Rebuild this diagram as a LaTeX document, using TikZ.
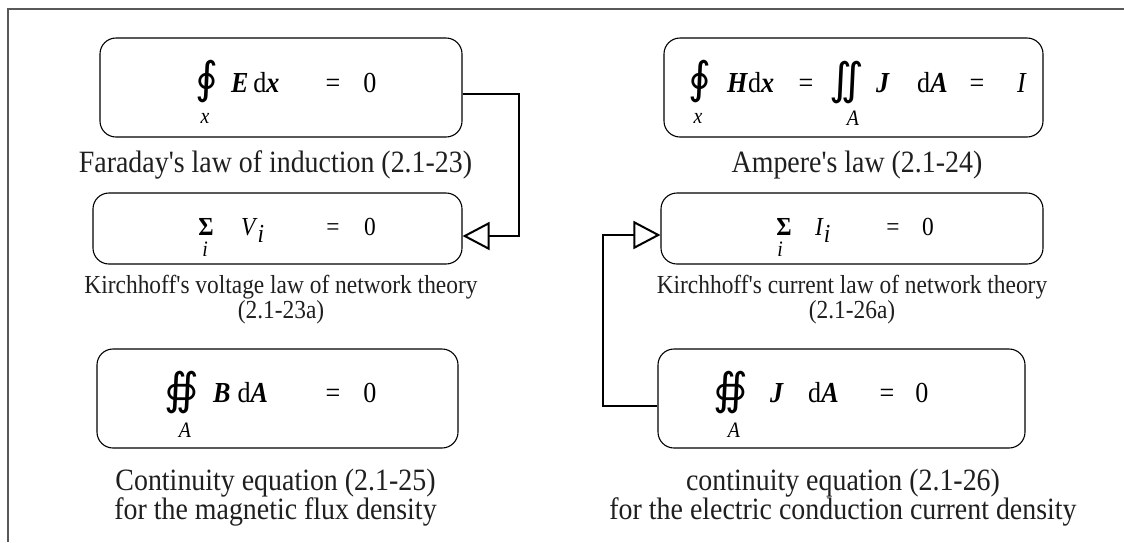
\documentclass[tikz,border=0pt]{standalone}
\usepackage{fontspec}
\setmainfont{Liberation Serif}[FakeStretch=0.9, Ligatures=TeXOff]
\newfontfamily\intfont{DejaVu Sans}
\usetikzlibrary{arrows.meta}

\newcommand{\bv}[1]{\textbf{\textit{#1}}}

\tikzset{
  frameline/.style={line width=1.4pt, draw=black!65},
  eqbox/.style={draw, line width=1.1pt, rounded corners=16pt, inner sep=0pt},
  caption/.style={inner sep=0pt, align=center, text=black!88,
    font=\fontsize{31}{28}\selectfont},
  smallcaption/.style={inner sep=0pt, align=center, text=black!88,
    font=\fontsize{26}{25}\selectfont},
  fm/.style={anchor=base, inner sep=0pt, font=\fontsize{29}{29}\selectfont},
  fmsmall/.style={anchor=base, inner sep=0pt, font=\fontsize{26}{26}\selectfont},
  sub/.style={anchor=base, inner sep=0pt, font=\fontsize{22}{22}\selectfont},
  intg/.style={anchor=center, inner sep=0pt, font=\fontsize{44}{44}\intfont},
  conn/.style={line width=2pt},
  opentip/.style={-{Triangle[open, length=27pt, width=28pt, line width=2pt]}}
}

\begin{document}
\begin{tikzpicture}[x=1pt, y=-1pt]
\useasboundingbox (0,0) rectangle (1124,542);

% outer frame (top and left edges only)
\draw[frameline] (1124,9) -- (8,9) -- (8,542);

% equation boxes
\node[eqbox, minimum width=362pt, minimum height=99pt] (faraday) at (281,87.5) {};
\node[eqbox, minimum width=369pt, minimum height=71pt] (kvl)     at (277.5,228.5) {};
\node[eqbox, minimum width=361pt, minimum height=99pt] (gaussb)  at (277.5,398.5) {};
\node[eqbox, minimum width=379pt, minimum height=99pt] (ampere)  at (853.5,87.5) {};
\node[eqbox, minimum width=382pt, minimum height=71pt] (kcl)     at (852,228.5) {};
\node[eqbox, minimum width=367pt, minimum height=99pt] (contj)   at (841.5,398.5) {};

% Faraday's law
\node[intg] (f-int) at (207,81.5) {∮};
\node[sub]  (f-sub) at (205,123.5) {\textit{x}};
\node[fm, anchor=base west] (f-arg) at (231,92) {\bv{E}\,d\bv{x}};
\node[fm] (f-eq)  at (333,92) {=};
\node[fm] (f-rhs) at (370,92) {0};

% Kirchhoff's voltage law
\node[fmsmall] (k-sum) at (206,235) {\textbf{Σ}};
\node[sub] (k-idx) at (205,256) {\textit{i}};
\node[fmsmall, anchor=base west] (k-arg) at (241,235) {\textit{V}\raisebox{-7pt}{\textit{i}}};
\node[fmsmall] (k-eq)  at (333,235) {=};
\node[fmsmall] (k-rhs) at (370,235) {0};

% flux of B
\node[intg] (b-int) at (182,392.5) {∯};
\node[sub]  (b-sub) at (185,437) {\textit{A}};
\node[fm, anchor=base west] (b-arg) at (213,402) {\bv{B}\hspace{7pt}d\bv{A}};
\node[fm] (b-eq)  at (333,402) {=};
\node[fm] (b-rhs) at (370,402) {0};

% Ampere's law
\node[intg] (a-int) at (700,81.5) {∮};
\node[sub]  (a-sub) at (698,123.5) {\textit{x}};
\node[fm, anchor=base west] (a-arg) at (727,92) {\bv{H}d\bv{x}};
\node[fm] (a-eq1) at (806,92) {=};
\node[intg] (a-iint) at (847,82.5) {∬};
\node[sub]  (a-sub2) at (853,125) {\textit{A}};
\node[fm] (a-j)   at (883,92) {\bv{J}};
\node[fm, anchor=base west] (a-da) at (917,92) {d\bv{A}};
\node[fm] (a-eq2) at (977,92) {=};
\node[fm] (a-rhs) at (1022,92) {\textit{I}};

% Kirchhoff's current law
\node[fmsmall] (c-sum) at (784,235) {\textbf{Σ}};
\node[sub] (c-idx) at (780,256) {\textit{i}};
\node[fmsmall, anchor=base west] (c-arg) at (815,235) {\textit{I}\raisebox{-7pt}{\textit{i}}};
\node[fmsmall] (c-eq)  at (893,235) {=};
\node[fmsmall] (c-rhs) at (928,235) {0};

% flux of J
\node[intg] (j-int) at (731,392.5) {∯};
\node[sub]  (j-sub) at (734,437) {\textit{A}};
\node[fm] (j-j) at (777,402) {\bv{J}};
\node[fm, anchor=base west] (j-da) at (808,402) {d\bv{A}};
\node[fm] (j-eq)  at (887,402) {=};
\node[fm] (j-rhs) at (922,402) {0};

% captions
\node[caption, anchor=base] (cap-faraday) at (275.5,172) {Faraday's law of induction (2.1-23)};
\node[caption, anchor=base] (cap-ampere)  at (857,172) {Ampere's law (2.1-24)};
\node[smallcaption] (cap-kvl) at (281,300) {Kirchhoff's voltage law of network theory\\(2.1-23a)};
\node[smallcaption] (cap-kcl) at (852,300) {Kirchhoff's current law of network theory\\(2.1-26a)};
\node[caption] (cap-gaussb) at (275.5,497.5) {Continuity equation (2.1-25)\\for the magnetic flux density};
\node[caption] (cap-contj)  at (843,497.5) {continuity equation (2.1-26)\\for the electric conduction current density};

% connectors
\coordinate (rbend) at (519,0);
\coordinate (lbend) at (603,0);
\coordinate (fo) at ([yshift=-6.5pt]faraday.east);
\coordinate (ki) at ([yshift=-7.5pt]kvl.east);
\coordinate (jo) at ([yshift=-7.5pt]contj.west);
\coordinate (ci) at ([yshift=-6.5pt]kcl.west);
\draw[conn, opentip] (fo) -- (fo -| rbend) -- (ki -| rbend) -- (ki);
\draw[conn, opentip] (jo) -- (jo -| lbend) -- (ci -| lbend) -- (ci);
\end{tikzpicture}
\end{document}
